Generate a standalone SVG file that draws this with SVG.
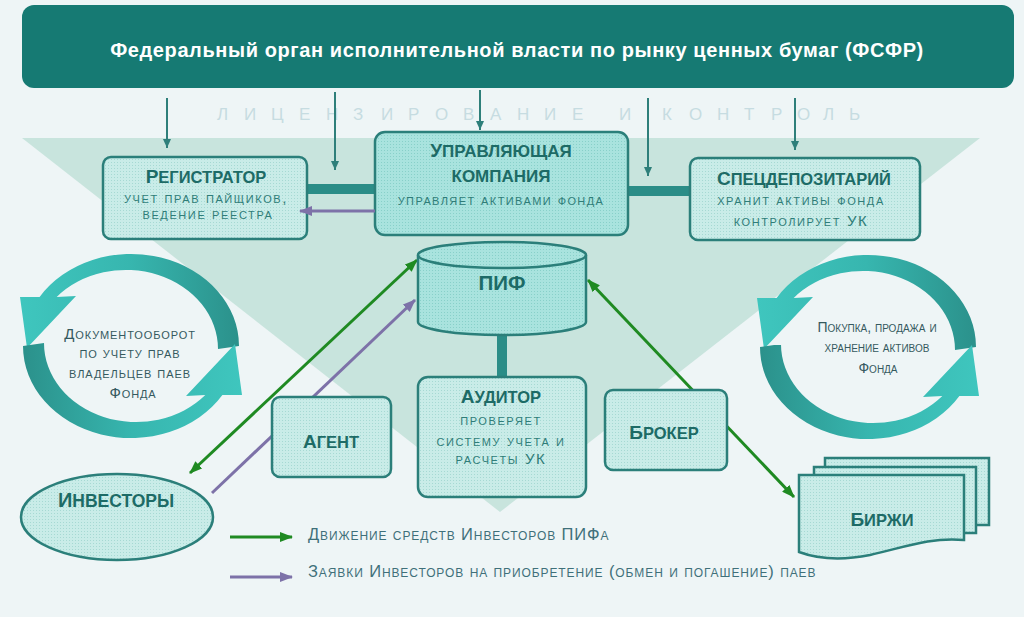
<svg xmlns="http://www.w3.org/2000/svg" width="1024" height="617" viewBox="0 0 1024 617">
<defs>
<style>
.box{stroke:#2b7f7a;stroke-width:2.5}
.t{font-family:"Liberation Sans",Arial,sans-serif;font-weight:bold;fill:#1d6b66;text-anchor:middle}
.s{font-family:"Liberation Sans",Arial,sans-serif;font-size:15px;font-variant:small-caps;letter-spacing:1.6px;fill:#2f7d78;text-anchor:middle}
.c{font-family:"Liberation Sans",Arial,sans-serif;font-variant:small-caps;fill:#35595e;text-anchor:middle}
.lg{font-family:"Liberation Sans",Arial,sans-serif;font-size:16.5px;font-variant:small-caps;letter-spacing:0.9px;fill:#3f707a}
.ctl{stroke:#2e7f7a;stroke-width:2;fill:none}
.bar{stroke:#2b8d87;stroke-width:10;fill:none}
.g{stroke:#1f8a22;stroke-width:3;fill:none}
.p{stroke:#7d72a8;stroke-width:3;fill:none}
</style>
<pattern id="dl" width="3" height="3" patternUnits="userSpaceOnUse"><rect width="3" height="3" fill="#c9ece8"/><rect width="1" height="1" fill="#a6d9d3"/></pattern>
<pattern id="dd" width="3" height="3" patternUnits="userSpaceOnUse"><rect width="3" height="3" fill="#a9e3de"/><rect width="1" height="1" fill="#88d0c9"/></pattern>
<linearGradient id="ag" x1="1" y1="0" x2="0" y2="0"><stop offset="0" stop-color="#2b918b"/><stop offset="0.5" stop-color="#37b6af"/><stop offset="1" stop-color="#3fc6be"/></linearGradient>
<marker id="ah" markerUnits="userSpaceOnUse" markerWidth="9" markerHeight="8" refX="9" refY="4" orient="auto"><path d="M0,0 L9,4 L0,8 z" fill="#2e7f7a"/></marker>
<marker id="mg" markerUnits="userSpaceOnUse" markerWidth="13" markerHeight="10" refX="12" refY="5" orient="auto-start-reverse"><path d="M0,0 L13,5 L0,10 z" fill="#1f8a22"/></marker>
<marker id="mp" markerUnits="userSpaceOnUse" markerWidth="13" markerHeight="10" refX="12" refY="5" orient="auto-start-reverse"><path d="M0,0 L13,5 L0,10 z" fill="#7d72a8"/></marker>
<path id="arc" fill="url(#ag)" d="M239,346 A108 92 0 0 0 39.6,297 L20,297 L27,348 L76,296 L56.7,297 A92 79 0 0 1 218,349 Z"/>
<g id="cycle"><use href="#arc"/><use href="#arc" transform="rotate(180 131 346)"/></g>
</defs>

<rect width="1024" height="617" fill="#eef5f6"/>
<polygon points="22,138 980,138 500,512" fill="#c8e4dd"/>
<text font-family="'Liberation Sans',Arial,sans-serif" font-size="17" fill="#c6dce1" y="120" x="217 244 271 299 326 353 381 408 435 463 490 517 544 572 595 619 640 662 689 717 744 771 797 823 849">ЛИЦЕНЗИРОВАНИЕ И КОНТРОЛЬ</text>

<g id="fsfr">
<rect x="22" y="5" width="992" height="83" rx="12" fill="#167a73"/>
<text x="517" y="57" font-family="'Liberation Sans',Arial,sans-serif" font-size="20" letter-spacing="0.6" font-weight="bold" fill="#ffffff" text-anchor="middle">Федеральный орган исполнительной власти по рынку ценных бумаг (ФСФР)</text>
</g>

<g id="cycle-left">
<use href="#cycle"/>
<text class="c" font-size="15" letter-spacing="0.9"><tspan x="130" y="339">Документооборот</tspan><tspan x="130" y="358">по учету прав</tspan><tspan x="130" y="378">владельцев паев</tspan><tspan x="133" y="398">Фонда</tspan></text>
</g>
<g id="cycle-right">
<use href="#cycle" transform="translate(737,1)"/>
<text class="c" font-size="14"><tspan x="877" y="332">Покупка, продажа и</tspan><tspan x="877" y="352">хранение активов</tspan><tspan x="878" y="373">Фонда</tspan></text>
</g>

<g id="connectors">
<path class="ctl" d="M167,98 V148" marker-end="url(#ah)"/>
<path class="ctl" d="M335,92 V170" marker-end="url(#ah)"/>
<path class="ctl" d="M480,90 V130" marker-end="url(#ah)"/>
<path class="ctl" d="M648,98 V176" marker-end="url(#ah)"/>
<path class="ctl" d="M795,98 V150" marker-end="url(#ah)"/>
<path class="bar" d="M305,189 H378"/>
<path class="bar" d="M626,191 H692"/>
<path class="bar" d="M502,330 V379"/>
<path class="g" d="M190,473 L417,260" marker-start="url(#mg)" marker-end="url(#mg)"/>
<path class="p" d="M212,493 L415,300" marker-end="url(#mp)"/>
<path class="g" d="M588,280 L794,497" marker-start="url(#mg)" marker-end="url(#mg)"/>
<path class="g" d="M230,537 H292" marker-end="url(#mg)"/>
<path class="p" d="M230,577 H292" marker-end="url(#mp)"/>
</g>

<g id="registrar">
<rect class="box" x="103" y="157" width="204" height="82" rx="8" fill="url(#dl)"/>
<text class="t" x="206" y="183"><tspan font-size="19">Р</tspan><tspan font-size="16.5">ЕГИСТРАТОР</tspan></text>
<text class="s" x="206" y="203">учет прав пайщиков,</text>
<text class="s" x="208" y="219">ведение реестра</text>
</g>

<g id="uk">
<rect class="box" x="375" y="132" width="253" height="103" rx="10" fill="url(#dd)"/>
<text class="t" x="501" y="157"><tspan font-size="19">У</tspan><tspan font-size="17">ПРАВЛЯЮЩАЯ</tspan></text>
<text class="t" x="501" y="182" font-size="17">КОМПАНИЯ</text>
<text class="s" x="501" y="205" style="letter-spacing:1.4px">управляет активами фонда</text>
</g>

<path class="p" d="M375,211 H300" marker-end="url(#mp)"/>

<g id="specdep">
<rect class="box" x="690" y="158" width="230" height="82" rx="8" fill="url(#dl)"/>
<text class="t" x="804" y="185"><tspan font-size="19">С</tspan><tspan font-size="16.5">ПЕЦДЕПОЗИТАРИЙ</tspan></text>
<text class="s" x="801" y="205">хранит активы фонда</text>
<text class="s" x="801" y="226">контролирует УК</text>
</g>

<g id="pif">
<path class="box" fill="url(#dd)" d="M418,255 V322 A84 13 0 0 0 586,322 V255 A84 13 0 0 0 418,255 Z"/>
<path class="box" fill="none" d="M418,255 A84 13 0 0 0 586,255"/>
<text class="t" x="502" y="290" font-size="20.5">ПИФ</text>
</g>

<g id="auditor">
<rect class="box" x="418" y="377" width="168" height="120" rx="10" fill="url(#dl)"/>
<text class="t" x="501" y="403"><tspan font-size="19">А</tspan><tspan font-size="16.5">УДИТОР</tspan></text>
<text class="s" x="501" y="425">проверяет</text>
<text class="s" x="501" y="446">систему учета и</text>
<text class="s" x="501" y="464">расчеты УК</text>
</g>

<g id="agent">
<rect class="box" x="272" y="397" width="119" height="80" rx="8" fill="url(#dl)"/>
<text class="t" x="331" y="448"><tspan font-size="19">А</tspan><tspan font-size="16.5">ГЕНТ</tspan></text>
</g>

<g id="broker">
<rect class="box" x="605" y="390" width="122" height="80" rx="8" fill="url(#dl)"/>
<text class="t" x="664" y="439"><tspan font-size="19">Б</tspan><tspan font-size="16.5">РОКЕР</tspan></text>
</g>

<g id="investors">
<ellipse class="box" cx="117" cy="517" rx="96" ry="43" fill="url(#dl)"/>
<text class="t" x="116" y="507"><tspan font-size="20">И</tspan><tspan font-size="17.5">НВЕСТОРЫ</tspan></text>
</g>

<g id="birzhi">
<rect class="box" x="825" y="458" width="164" height="67" fill="url(#dl)"/>
<rect class="box" x="814" y="467" width="162" height="66" fill="url(#dl)"/>
<path class="box" fill="url(#dl)" d="M799,475 H964 V540 C930,537 905,547 870,555 C840,561 818,559 799,552 Z"/>
<text class="t" x="882" y="526"><tspan font-size="19">Б</tspan><tspan font-size="16.5">ИРЖИ</tspan></text>
</g>

<g id="legend">
<text class="lg" x="308" y="540">Движение средств Инвесторов ПИФа</text>
<text class="lg" x="308" y="577">Заявки Инвесторов на приобретение (обмен и погашение) паев</text>
</g>
</svg>
